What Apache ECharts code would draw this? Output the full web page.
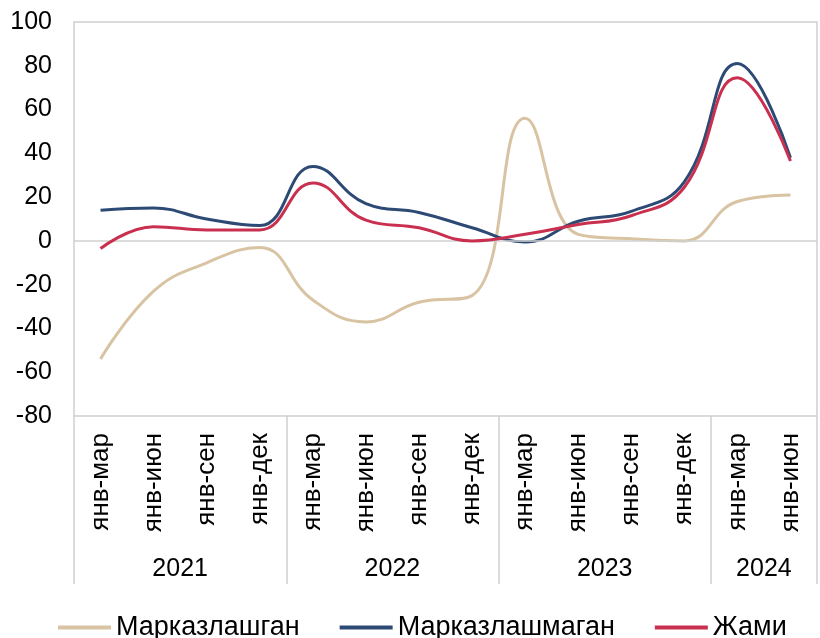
<!DOCTYPE html>
<html>
<head>
<meta charset="utf-8">
<script src="https://cdn.jsdelivr.net/npm/echarts@6/dist/echarts.min.js"></script>
<style>
  html, body { margin: 0; padding: 0; background: #fff; }
  #chart { width: 820px; height: 638px; }
</style>
</head>
<body>
<div id="chart"></div>
<script>
// кварталлар ва йиллар
const quarters = ['янв-мар', 'янв-июн', 'янв-сен', 'янв-дек',
  'янв-мар', 'янв-июн', 'янв-сен', 'янв-дек',
  'янв-мар', 'янв-июн', 'янв-сен', 'янв-дек',
  'янв-мар', 'янв-июн'];
const years = ['2021', '2022', '2023', '2024'];
const quartersPerYear = [4, 4, 4, 2];

const centralized = [-54, -23, -10, -3, -27, -37, -28, -25, 56, 3, 1, 0, 18, 21];
const decentralized = [14, 15, 10, 7, 34, 17, 13, 6, -0.5, 9, 13.5, 27, 81, 38];
const total = [-3.5, 6.5, 5, 5, 26.5, 9.5, 6, 0, 3, 7.5, 11.5, 24.5, 74.5, 36.5];

const yTicks = [-80, -60, -40, -20, 0, 20, 40, 60, 80, 100];

// йил чегаралари ва марказлари
const yearStarts = [];
const yearCenters = {};
let acc = 0;
quartersPerYear.forEach((n, i) => {
  yearStarts.push(acc);
  yearCenters[acc + n / 2] = years[i];
  acc += n;
});

const font = "'Liberation Sans', Arial, sans-serif";
const gridColor = '#d0d0d0';

const chart = echarts.init(document.getElementById('chart'));

const option = {
  animation: false,
  textStyle: { fontFamily: font },
  grid: {
    left: 74, right: -4, top: 22, bottom: 222,
    show: true, borderColor: gridColor, borderWidth: 1.5
  },
  legend: {
    top: 609, left: 53,
    itemWidth: 53, itemHeight: 4, itemGap: 40,
    icon: 'rect',
    textStyle: { fontSize: 27, color: '#000', fontFamily: font },
    data: ['Марказлашган', 'Марказлашмаган', 'Жами']
  },
  xAxis: [
    {
      type: 'category',
      data: quarters,
      boundaryGap: true,
      axisLine: { show: false },
      axisTick: { show: false },
      axisLabel: { rotate: 90, fontSize: 26, color: '#000', margin: 17, interval: 0 }
    },
    {
      type: 'category',
      data: quarters,
      position: 'bottom',
      boundaryGap: true,
      axisLine: { show: false },
      axisTick: {
        show: true, length: 168,
        interval: (i) => yearStarts.indexOf(i) !== -1,
        lineStyle: { color: gridColor, width: 1.5 }
      },
      axisLabel: { show: false }
    },
    {
      type: 'value',
      min: 0, max: quarters.length, interval: 1,
      position: 'bottom',
      axisLine: { show: false },
      axisTick: { show: false },
      splitLine: { show: false },
      axisLabel: {
        fontSize: 25, color: '#000', margin: 141,
        showMinLabel: true, showMaxLabel: true,
        formatter: (v) => yearCenters[v] || ''
      }
    }
  ],
  yAxis: {
    type: 'value',
    min: yTicks[0], max: yTicks[yTicks.length - 1], interval: 20,
    axisLine: { show: false },
    axisTick: { show: false },
    splitLine: { show: false },
    axisLabel: { fontSize: 25, color: '#000', margin: 22 }
  },
  series: [
    {
      name: 'Марказлашган', type: 'line', data: centralized,
      smooth: 0.45, symbol: 'none',
      color: '#d8c3a3',
      lineStyle: { width: 3 },
      markLine: {
        silent: true, symbol: 'none', label: { show: false },
        lineStyle: { color: gridColor, width: 1.5, type: 'solid' },
        data: [{ yAxis: 0 }]
      },
      z: 3
    },
    {
      name: 'Марказлашмаган', type: 'line', data: decentralized,
      smooth: 0.45, symbol: 'none',
      color: '#2d4a75',
      lineStyle: { width: 3 },
      z: 4
    },
    {
      name: 'Жами', type: 'line', data: total,
      smooth: 0.45, symbol: 'none',
      color: '#c9304f',
      lineStyle: { width: 3 },
      z: 5
    }
  ]
};

chart.setOption(option);
window.onresize = function () {
  chart.resize();
};
</script>
</body>
</html>
